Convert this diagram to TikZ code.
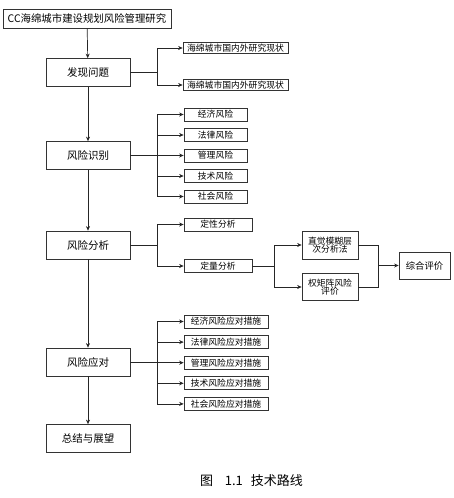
\documentclass[tikz,border=0pt]{standalone}
\usepackage{fontspec}
\setmainfont{Noto Sans CJK SC}
\usetikzlibrary{arrows.meta}
\tikzset{
  box/.style={draw=black!80, line width=0.7pt, inner sep=0pt, align=center, font=\fontsize{8.8}{9}\selectfont},
  mainbox/.style={box, minimum width=84pt, minimum height=28pt, font=\fontsize{10.5}{11}\selectfont},
  conn/.style={draw=black!85, line width=0.7pt},
  arr/.style={conn, -{Stealth[length=4.5pt,width=4pt]}},
}
\begin{document}
\begin{tikzpicture}[x=1pt,y=-1pt]
\useasboundingbox (0,0) rectangle (454,498);
% main column
\node[box, minimum width=168pt, minimum height=19pt, font=\fontsize{10.4}{11}\selectfont] (top) at (87,18.5) {CC海绵城市建设规划风险管理研究};
\node[mainbox] (fx) at (88,72.5) {发现问题};
\node[mainbox] (sb) at (88,155.5) {风险识别};
\node[mainbox] (fx2) at (88,245) {风险分析};
\node[mainbox] (yd) at (88,362) {风险应对};
\node[mainbox] (zj) at (88,438.5) {总结与展望};
\draw[arr] (top) -- (fx);
\draw[arr] (fx) -- (sb);
\draw[arr] (sb) -- (fx2);
\draw[arr] (fx2) -- (yd);
\draw[arr] (yd) -- (zj);
% 发现问题 branch
\node[box, minimum width=105pt, minimum height=11pt] (a1) at (235.5,48) {海绵城市国内外研究现状};
\node[box, minimum width=105pt, minimum height=11pt] (a2) at (235.5,85) {海绵城市国内外研究现状};
\coordinate (ba) at (157,72.5);
\draw[conn] (fx.east) -- (ba);
\draw[arr] (ba) |- (a1.west);
\draw[arr] (ba) |- (a2.west);
% 风险识别 branch
\foreach \t [count=\i] in {经济风险,法律风险,管理风险,技术风险,社会风险}{
  \node[box, minimum width=63pt, minimum height=13pt] (s\i) at (215.5,{114.5+20.5*(\i-1)}) {\t};
}
\coordinate (bs) at (157,155.5);
\draw[conn] (sb.east) -- (bs);
\foreach \i in {1,...,5}{ \draw[arr] (bs) |- (s\i.west); }
% 风险分析 branch
\node[box, minimum width=68pt, minimum height=13pt] (dx) at (218,224.5) {定性分析};
\node[box, minimum width=68pt, minimum height=13pt] (dl) at (218,266) {定量分析};
\coordinate (bf) at (157,245);
\draw[conn] (fx2.east) -- (bf);
\draw[arr] (bf) |- (dx.west);
\draw[arr] (bf) |- (dl.west);
\node[box, minimum width=56pt, minimum height=28pt, font=\fontsize{8.8}{8.5}\selectfont] (zjm) at (330,245) {直觉模糊层\\次分析法};
\node[box, minimum width=56pt, minimum height=27pt, font=\fontsize{8.8}{8.5}\selectfont] (qj) at (330,287) {权矩阵风险\\评价};
\node[box, minimum width=51pt, minimum height=27pt, font=\fontsize{9.3}{10}\selectfont] (zh) at (424.5,265.5) {综合评价};
\coordinate (bl) at (274,266);
\coordinate (bm) at (378,265.5);
\draw[conn] (dl.east) -- (bl);
\draw[arr] (bl) |- (zjm.west);
\draw[arr] (bl) |- (qj.west);
\draw[conn] (zjm.east) -| (bm);
\draw[conn] (qj.east) -| (bm);
\draw[arr] (bm) -- (zh.west);
% 风险应对 branch
\foreach \t [count=\i] in {经济风险应对措施,法律风险应对措施,管理风险应对措施,技术风险应对措施,社会风险应对措施}{
  \node[box, minimum width=84pt, minimum height=13pt] (y\i) at (226,{321.5+20.6*(\i-1)}) {\t};
}
\coordinate (by) at (157,362);
\draw[conn] (yd.east) -- (by);
\foreach \i in {1,...,5}{ \draw[arr] (by) |- (y\i.west); }
% caption
\node[font=\fontsize{13}{14}\selectfont] (cap) at (251.5,481) {图\hspace{0.9em}1.1\hspace{0.6em}技术路线};
\end{tikzpicture}
\end{document}
